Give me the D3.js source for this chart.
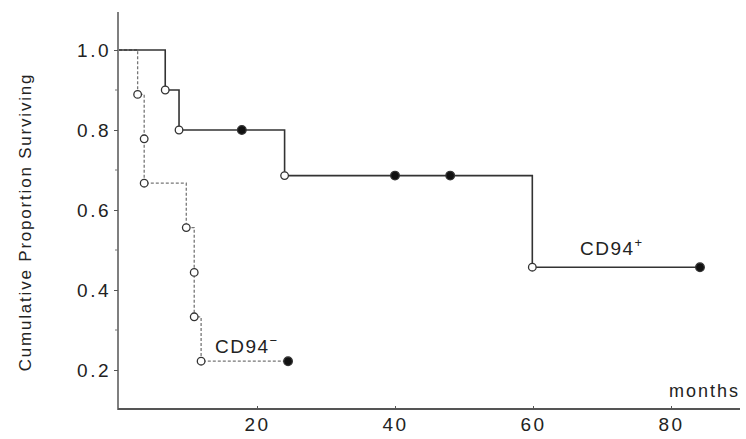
<!DOCTYPE html>
<html>
<head>
<meta charset="utf-8">
<script src="https://cdn.jsdelivr.net/npm/d3@7"></script>
<style>
  html, body { margin: 0; padding: 0; background: #fff; }
  svg text { font-family: "Liberation Sans", Arial, sans-serif; fill: #222; }
</style>
</head>
<body>
<svg id="chart" width="746" height="439"></svg>
<script>
// ---- data ----
const posTimes    = [6.7, 8.7, 17.8, 24, 40, 48, 59.9, 84.2];
const posSurv     = [0.9, 0.8, 0.8, 0.686, 0.686, 0.686, 0.457, 0.457];
const posCensored = [false, false, true, false, true, true, false, true];

const negTimes    = [2.7, 3.65, 3.65, 9.75, 10.9, 10.9, 11.9, 24.5];
const negSurv     = [0.889, 0.778, 0.667, 0.556, 0.444, 0.333, 0.222, 0.222];
const negCensored = [false, false, false, false, false, false, false, true];

const xTicks = [20, 40, 60, 80];
const yTicks = [0.2, 0.4, 0.6, 0.8, 1.0];
const yMinorTicks = [0.3, 0.5, 0.7, 0.9];

const yTitle = "Cumulative Proportion Surviving";
const xTitle = "months";

// ---- chart ----
const svg = d3.select("#chart");
const x = d3.scaleLinear().domain([0, 90]).range([119, 740]);
const y = d3.scaleLinear().domain([0.1, 1.1]).range([410, 10]);

// y axis
const yAxis = d3.axisLeft(y).tickValues(yTicks).tickFormat(d3.format(".1f"))
  .tickSize(4).tickPadding(3);
const gy = svg.append("g").attr("transform", `translate(${x(0) - 1},0)`).call(yAxis);
gy.select(".domain").attr("d", `M0,${y(1.095)}V${y(0.1)}`).attr("stroke", "#555").attr("stroke-width", 1.5);
gy.selectAll(".tick line").attr("stroke", "#555");
gy.selectAll(".tick text").attr("font-size", 19).attr("letter-spacing", "2.5px")
  .attr("fill", "#222").attr("font-family", "Liberation Sans, Arial, sans-serif");
gy.selectAll(".minor").data(yMinorTicks).enter().append("line")
  .attr("x1", -3).attr("x2", 0).attr("y1", d => y(d)).attr("y2", d => y(d))
  .attr("stroke", "#777");

// x axis
const xAxis = d3.axisBottom(x).tickValues(xTicks).tickFormat(d3.format("d"))
  .tickSize(-3).tickPadding(9);
const gx = svg.append("g").attr("transform", `translate(0,${y(0.1) - 1})`).call(xAxis);
gx.select(".domain").attr("d", `M${x(0) - 1},0H${x(90)}`).attr("stroke", "#555").attr("stroke-width", 1.8);
gx.selectAll(".tick line").attr("stroke", "#555");
gx.selectAll(".tick text").attr("font-size", 19).attr("letter-spacing", "2.5px")
  .attr("fill", "#222").attr("font-family", "Liberation Sans, Arial, sans-serif");

// step path builder
function stepPath(times, surv) {
  let d = `M${x(0)},${y(1)}`;
  let prev = 1;
  times.forEach((t, i) => {
    d += `L${x(t)},${y(prev)}L${x(t)},${y(surv[i])}`;
    prev = surv[i];
  });
  return d;
}

// CD94- (dashed)
svg.append("path").attr("d", stepPath(negTimes, negSurv))
  .attr("fill", "none").attr("stroke", "#777").attr("stroke-width", 1.3)
  .attr("stroke-dasharray", "3,2");
// CD94+ (solid)
svg.append("path").attr("d", stepPath(posTimes, posSurv))
  .attr("fill", "none").attr("stroke", "#333").attr("stroke-width", 1.6);

function drawMarkers(times, surv, cens) {
  const pts = times.map((t, i) => ({ t, s: surv[i], c: cens[i] }));
  svg.append("g").selectAll("circle").data(pts).enter().append("circle")
    .attr("cx", d => x(d.t)).attr("cy", d => y(d.s))
    .attr("r", d => d.c ? 4.3 : 3.8)
    .attr("fill", d => d.c ? "#111" : "#fff")
    .attr("stroke", "#333").attr("stroke-width", 1.3);
}
drawMarkers(negTimes, negSurv, negCensored);
drawMarkers(posTimes, posSurv, posCensored);

// group labels
const lp = svg.append("text").attr("x", 580).attr("y", 255)
  .attr("font-size", 19).attr("letter-spacing", "1.5px");
lp.append("tspan").text("CD94");
lp.append("tspan").attr("font-size", 13).attr("dy", -8).text("+");

const ln = svg.append("text").attr("x", 215).attr("y", 353)
  .attr("font-size", 19).attr("letter-spacing", "1.5px");
ln.append("tspan").text("CD94");
ln.append("tspan").attr("font-size", 13).attr("dy", -8).text("−");

// axis titles
svg.append("text").attr("x", 740).attr("y", 397).attr("text-anchor", "end")
  .attr("font-size", 18).attr("letter-spacing", "2px").text(xTitle);

svg.append("text").attr("transform", "translate(31,222) rotate(-90)")
  .attr("text-anchor", "middle").attr("font-size", 17).attr("letter-spacing", "1.8px")
  .text(yTitle);
</script>
</body>
</html>
